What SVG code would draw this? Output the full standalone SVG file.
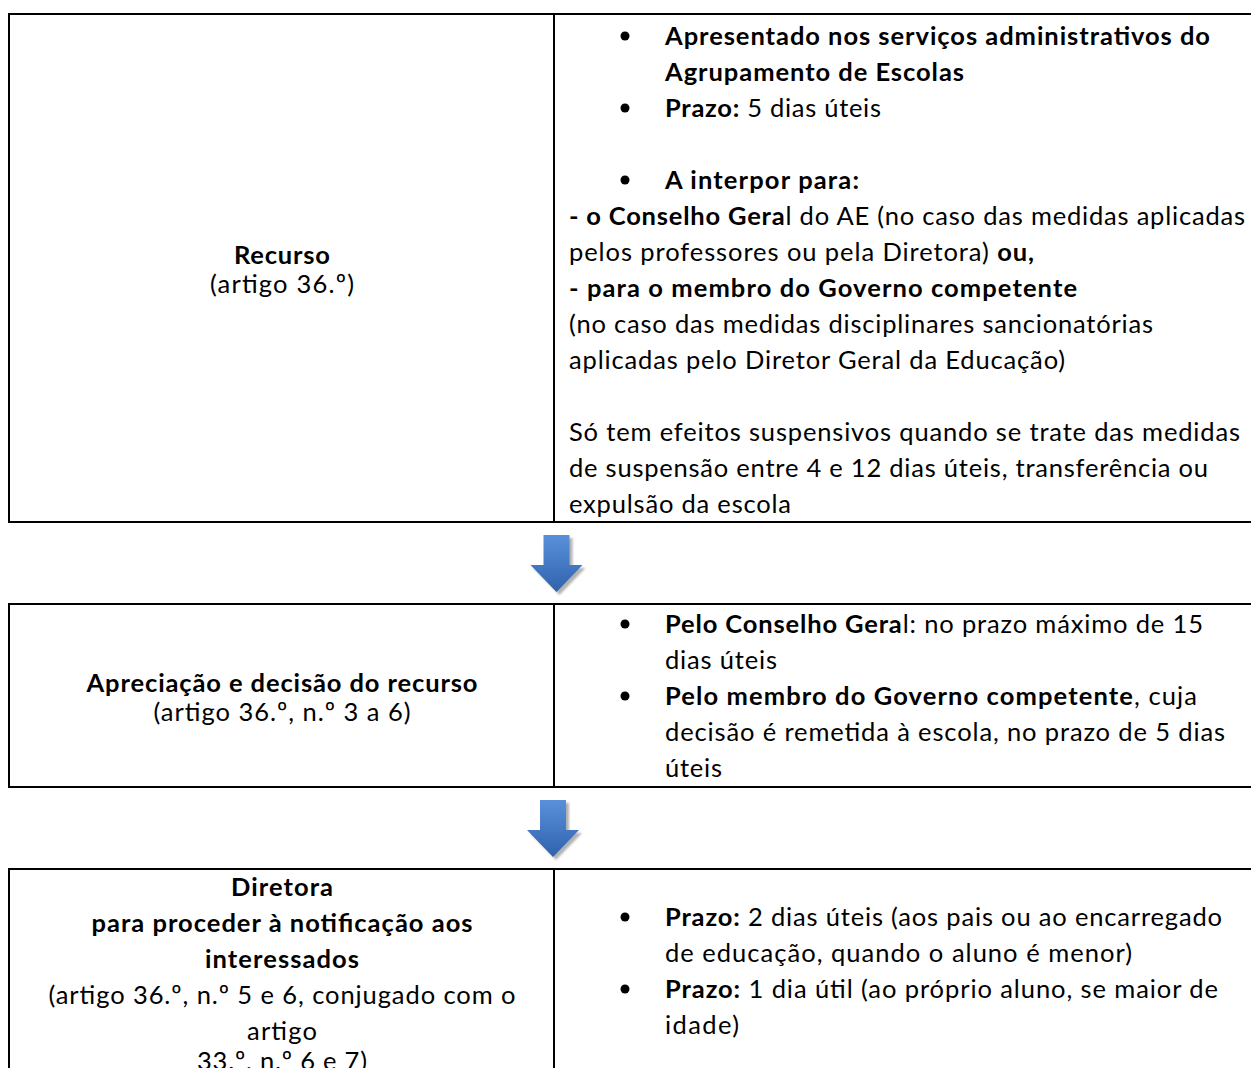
<svg xmlns="http://www.w3.org/2000/svg" width="1251" height="1068" viewBox="0 0 1251 1068">
<style>
.bx{fill:none;stroke:#000;stroke-width:2}
text{font-family:Lato,"Open Sans","Liberation Sans",sans-serif;font-size:25.5px;fill:#000}
.b{font-weight:bold}
.c{text-anchor:middle}
.dot{fill:#000}
</style>
<defs>
<linearGradient id="ag" x1="0" y1="0" x2="0" y2="1">
<stop offset="0" stop-color="#5a90da"/>
<stop offset="1" stop-color="#2f62ac"/>
</linearGradient>
<filter id="sh" x="-20%" y="-20%" width="140%" height="140%">
<feGaussianBlur stdDeviation="1.2"/>
</filter>
<path id="arw" d="M-13,0 H13 V30 H26 L0,57 L-26,30 H-13 Z"/>
</defs>
<rect width="1251" height="1068" fill="#fff"/>

<g id="node-recurso">
<rect class="bx" x="9" y="14" width="1250" height="508"/>
<line class="bx" x1="554" y1="14" x2="554" y2="522"/>
<text class="c b" x="282" y="264" textLength="96">Recurso</text>
<text class="c" x="282" y="293" textLength="144">(artigo 36.º)</text>
<circle class="dot" cx="625" cy="36" r="4.5"/>
<text class="b" x="665" y="45" textLength="545">Apresentado nos serviços administrativos do</text>
<text class="b" x="665" y="81" textLength="299">Agrupamento de Escolas</text>
<circle class="dot" cx="625" cy="108" r="4.5"/>
<text x="665" y="117" textLength="216"><tspan class="b">Prazo:</tspan> 5 dias úteis</text>
<circle class="dot" cx="625" cy="180" r="4.5"/>
<text class="b" x="665" y="189" textLength="194">A interpor para:</text>
<text x="569" y="225" textLength="676"><tspan class="b">- o Conselho Gera</tspan>l do AE (no caso das medidas aplicadas</text>
<text x="569" y="261" textLength="465">pelos professores ou pela Diretora) <tspan class="b">ou,</tspan></text>
<text class="b" x="569" y="297" textLength="508">- para o membro do Governo competente</text>
<text x="569" y="333" textLength="584">(no caso das medidas disciplinares sancionatórias</text>
<text x="569" y="369" textLength="496">aplicadas pelo Diretor Geral da Educação)</text>
<text x="569" y="441" textLength="671">Só tem efeitos suspensivos quando se trate das medidas</text>
<text x="569" y="477" textLength="639">de suspensão entre 4 e 12 dias úteis, transferência ou</text>
<text x="569" y="513" textLength="222">expulsão da escola</text>
</g>

<g id="node-apreciacao">
<rect class="bx" x="9" y="604" width="1250" height="183"/>
<line class="bx" x1="554" y1="604" x2="554" y2="787"/>
<text class="c b" x="282" y="692" textLength="391">Apreciação e decisão do recurso</text>
<text class="c" x="282" y="721" textLength="257">(artigo 36.º, n.º 3 a 6)</text>
<circle class="dot" cx="625" cy="624" r="4.5"/>
<text x="665" y="633" textLength="538"><tspan class="b">Pelo Conselho Gera</tspan>l: no prazo máximo de 15</text>
<text x="665" y="669" textLength="112">dias úteis</text>
<circle class="dot" cx="625" cy="696" r="4.5"/>
<text x="665" y="705" textLength="532"><tspan class="b">Pelo membro do Governo competente</tspan>, cuja</text>
<text x="665" y="741" textLength="560">decisão é remetida à escola, no prazo de 5 dias</text>
<text x="665" y="777" textLength="57">úteis</text>
</g>

<g id="node-diretora">
<rect class="bx" x="9" y="869" width="1250" height="220"/>
<line class="bx" x1="554" y1="869" x2="554" y2="1070"/>
<text class="c b" x="282" y="896" textLength="102">Diretora</text>
<text class="c b" x="282" y="932" textLength="381">para proceder à notificação aos</text>
<text class="c b" x="282" y="968" textLength="154">interessados</text>
<text class="c" x="282" y="1004" textLength="467">(artigo 36.º, n.º 5 e 6, conjugado com o</text>
<text class="c" x="282" y="1040" textLength="70">artigo</text>
<text class="c" x="282" y="1070" textLength="170">33.º, n.º 6 e 7)</text>
<circle class="dot" cx="625" cy="917" r="4.5"/>
<text x="665" y="926" textLength="557"><tspan class="b">Prazo:</tspan> 2 dias úteis (aos pais ou ao encarregado</text>
<text x="665" y="962" textLength="467">de educação, quando o aluno é menor)</text>
<circle class="dot" cx="625" cy="989" r="4.5"/>
<text x="665" y="998" textLength="553"><tspan class="b">Prazo:</tspan> 1 dia útil (ao próprio aluno, se maior de</text>
<text x="665" y="1034" textLength="74">idade)</text>
</g>

<g id="connectors">
<g transform="translate(556.5,535)">
<use href="#arw" transform="translate(3,3)" fill="#7f7f7f" opacity="0.6" filter="url(#sh)"/>
<use href="#arw" fill="url(#ag)"/>
</g>
<g transform="translate(553,800)">
<use href="#arw" transform="translate(3,3)" fill="#7f7f7f" opacity="0.6" filter="url(#sh)"/>
<use href="#arw" fill="url(#ag)"/>
</g>
</g>
</svg>
